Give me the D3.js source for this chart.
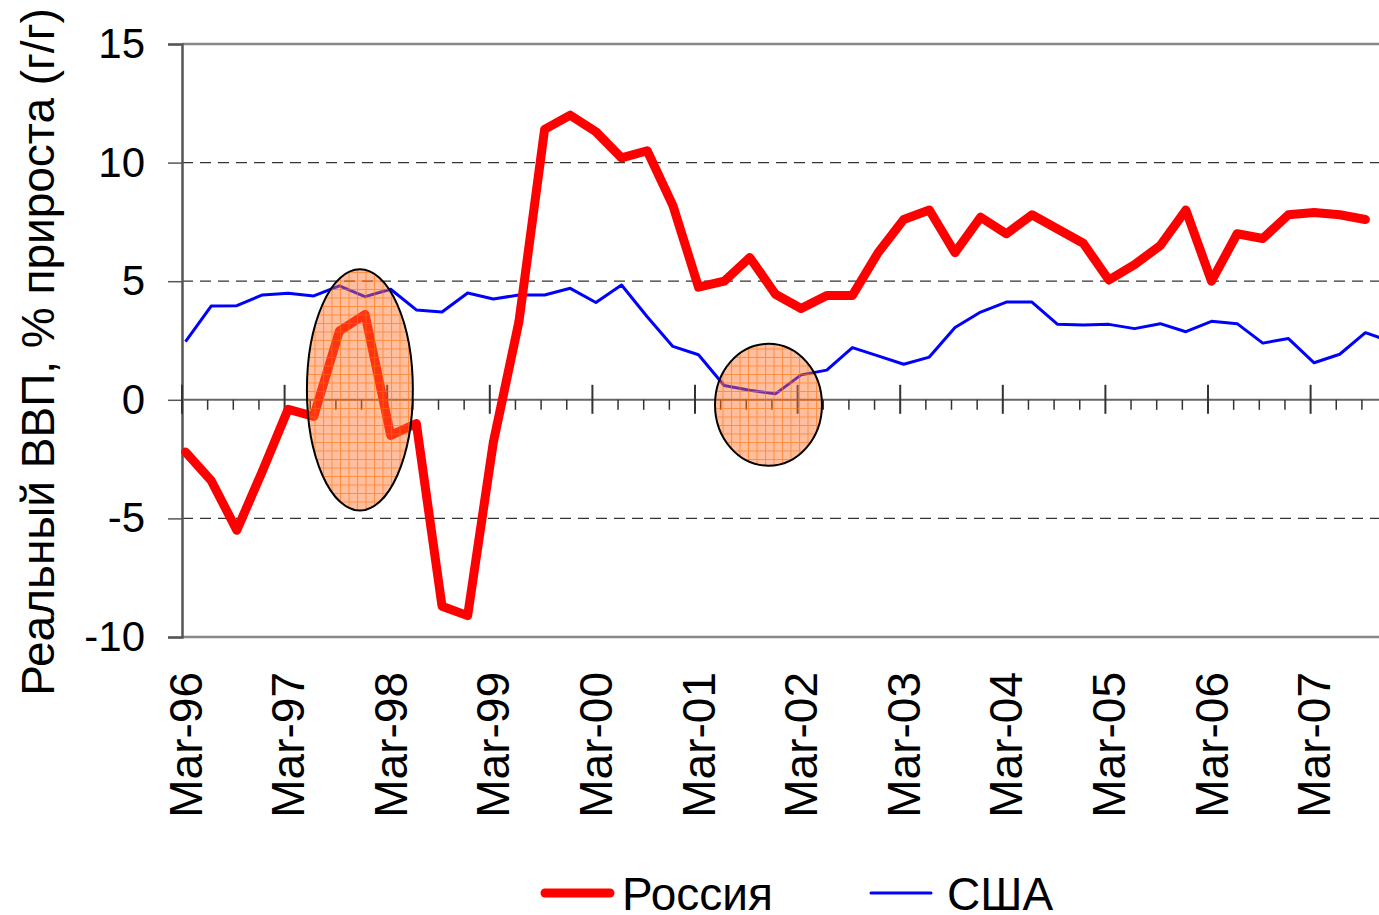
<!DOCTYPE html>
<html>
<head>
<meta charset="utf-8">
<script src="https://cdn.jsdelivr.net/npm/d3@7"></script>
<style>
  body { margin: 0; background: #fff; }
  svg { display: block; font-family: Arial, "Liberation Sans", sans-serif; }
</style>
</head>
<body>
<svg id="chart"></svg>
<script>
// quarterly, Mar-96 .. Dec-07
var quarters = []
var qMonths = ["Mar", "Jun", "Sep", "Dec"]
for (var yr = 1996; yr <= 2007; yr++) {
	qMonths.forEach(m => quarters.push(m + "-" + String(yr).slice(2)))
}

var russia = [-2.2, -3.4, -5.5, -3.0, -0.4, -0.7, 2.9, 3.6, -1.5, -1.0, -8.7, -9.1,
	-1.8, 3.3, 11.4, 12.0, 11.3, 10.2, 10.5, 8.2, 4.75, 5.0, 6.0, 4.45,
	3.85, 4.4, 4.4, 6.2, 7.6, 8.0, 6.2, 7.7, 7.0, 7.8, 7.2, 6.6,
	5.05, 5.7, 6.5, 8.0, 5.0, 7.0, 6.8, 7.8, 7.9, 7.8, 7.6]

var usa = [2.45, 3.95, 3.97, 4.42, 4.49, 4.38, 4.8, 4.35, 4.66, 3.79, 3.7, 4.5,
	4.25, 4.42, 4.42, 4.7, 4.1, 4.84, 3.5, 2.25, 1.9, 0.6, 0.4, 0.25,
	1.05, 1.25, 2.2, 1.85, 1.5, 1.8, 3.05, 3.7, 4.12, 4.12, 3.18, 3.15,
	3.18, 3.0, 3.21, 2.87, 3.31, 3.21, 2.39, 2.58, 1.56, 1.92, 2.83, 2.45]

var yTicks = [-10, -5, 0, 5, 10, 15]
var yearLabels = quarters.filter(q => q.startsWith("Mar"))

// highlighted periods (quarter positions and value range)
var highlights = [
	{ from: 4.87, to: 9.0, lo: -4.67, hi: 5.5 },
	{ from: 20.78, to: 24.95, lo: -2.78, hi: 2.36 }
]

var dim = { width: 1379, height: 915, left: 182, right: 1379, top: 44, bottom: 637 }

var svg = d3.select("#chart")
	.attr("width", dim.width)
	.attr("height", dim.height)

// tick positions (quarter index -> px); points sit a little right of the ticks
var xTick = d3.scaleLinear()
	.domain([0, 1])
	.range([dim.left, dim.left + 25.65])
var x = i => xTick(i) + 3.5

var y = d3.scaleLinear()
	.domain([-10, 15])
	.range([dim.bottom, dim.top])

// pattern for the highlight ellipses
var defs = svg.append("defs")
var pat = defs.append("pattern")
	.attr("id", "grid")
	.attr("patternUnits", "userSpaceOnUse")
	.attr("width", 8.5).attr("height", 8.5)
pat.append("rect").attr("width", 8.5).attr("height", 8.5).attr("fill", "rgba(255,110,40,0.45)")
pat.append("path").attr("d", "M0,0.5H8.5M0.5,0V8.5")
	.attr("stroke", "rgba(255,110,0,0.6)").attr("stroke-width", 1)

// gridlines
svg.append("g")
	.selectAll("line")
	.data(yTicks.filter(d => d != 0 && d != -10 && d != 15))
	.enter()
	.append("line")
		.attr("x1", dim.left).attr("x2", dim.right)
		.attr("y1", d => y(d)).attr("y2", d => y(d))
		.attr("stroke", "#333")
		.attr("stroke-width", 1.3)
		.attr("stroke-dasharray", "11,7")

// frame top and bottom
svg.append("line")
	.attr("x1", dim.left).attr("x2", dim.right)
	.attr("y1", y(15)).attr("y2", y(15))
	.attr("stroke", "#888").attr("stroke-width", 2.5)
svg.append("line")
	.attr("x1", dim.left).attr("x2", dim.right)
	.attr("y1", y(-10)).attr("y2", y(-10))
	.attr("stroke", "#888").attr("stroke-width", 2.5)

// y axis
var yAxis = svg.append("g")
	.attr("transform", "translate(" + dim.left + ",0)")
	.call(d3.axisLeft(y).tickValues(yTicks).tickSize(14).tickPadding(23).tickFormat(d => String(d)))
yAxis.select(".domain").attr("stroke", "#555").attr("stroke-width", 2.5)
yAxis.selectAll(".tick line").attr("stroke", "#555").attr("stroke-width", 1.5)
yAxis.selectAll("text")
	.attr("font-size", 42)
	.attr("fill", "#000")
	.attr("font-family", "Arial, 'Liberation Sans', sans-serif")

// zero axis with quarter ticks
svg.append("line")
	.attr("x1", dim.left).attr("x2", dim.right)
	.attr("y1", y(0)).attr("y2", y(0))
	.attr("stroke", "#666").attr("stroke-width", 2)
svg.append("g")
	.selectAll("line")
	.data(d3.range(0, quarters.length))
	.enter()
	.append("line")
		.attr("x1", d => xTick(d)).attr("x2", d => xTick(d))
		.attr("y1", d => d % 4 == 0 ? y(0) - 15 : y(0))
		.attr("y2", d => d % 4 == 0 ? y(0) + 14 : y(0) + 10)
		.attr("stroke", "#333")
		.attr("stroke-width", d => d % 4 == 0 ? 2 : 1.5)

// x labels
svg.append("g")
	.selectAll("text")
	.data(yearLabels)
	.enter()
	.append("text")
		.attr("transform", d => "translate(" + (xTick(quarters.indexOf(d)) + 19.5) + ",672) rotate(-90)")
		.attr("text-anchor", "end")
		.attr("font-size", 46)
		.text(d => d)

// lines
var line = d3.line()
	.x((d, i) => x(i))
	.y(d => y(d))

svg.append("path")
	.datum(usa)
	.attr("d", line)
	.attr("fill", "none")
	.attr("stroke", "#0000ff")
	.attr("stroke-width", 3)
	.attr("stroke-linejoin", "round")

svg.append("path")
	.datum(russia)
	.attr("d", line)
	.attr("fill", "none")
	.attr("stroke", "#ff0000")
	.attr("stroke-width", 9)
	.attr("stroke-linejoin", "round")
	.attr("stroke-linecap", "round")

// highlight ellipses
svg.append("g")
	.selectAll("ellipse")
	.data(highlights)
	.enter()
	.append("ellipse")
		.attr("cx", d => (xTick(d.from) + xTick(d.to)) / 2)
		.attr("cy", d => (y(d.lo) + y(d.hi)) / 2)
		.attr("rx", d => (xTick(d.to) - xTick(d.from)) / 2)
		.attr("ry", d => (y(d.lo) - y(d.hi)) / 2)
		.attr("fill", "url(#grid)")
		.attr("stroke", "#000")
		.attr("stroke-width", 2)

// y title
svg.append("text")
	.attr("transform", "translate(54,352) rotate(-90)")
	.attr("text-anchor", "middle")
	.attr("font-size", 46)
	.text("Реальный ВВП, % прироста (г/г)")

// legend
var legend = [
	{ name: "Россия", color: "#ff0000", width: 9, x1: 545, x2: 610, tx: 622 },
	{ name: "США", color: "#0000ff", width: 3, x1: 871, x2: 931, tx: 947 }
]
var lg = svg.append("g")
lg.selectAll("line")
	.data(legend)
	.enter()
	.append("line")
		.attr("x1", d => d.x1).attr("x2", d => d.x2)
		.attr("y1", 893).attr("y2", 893)
		.attr("stroke", d => d.color)
		.attr("stroke-width", d => d.width)
		.attr("stroke-linecap", "round")
lg.selectAll("text")
	.data(legend)
	.enter()
	.append("text")
		.attr("x", d => d.tx)
		.attr("y", 910)
		.attr("font-size", 46)
		.text(d => d.name)
</script>
</body>
</html>
